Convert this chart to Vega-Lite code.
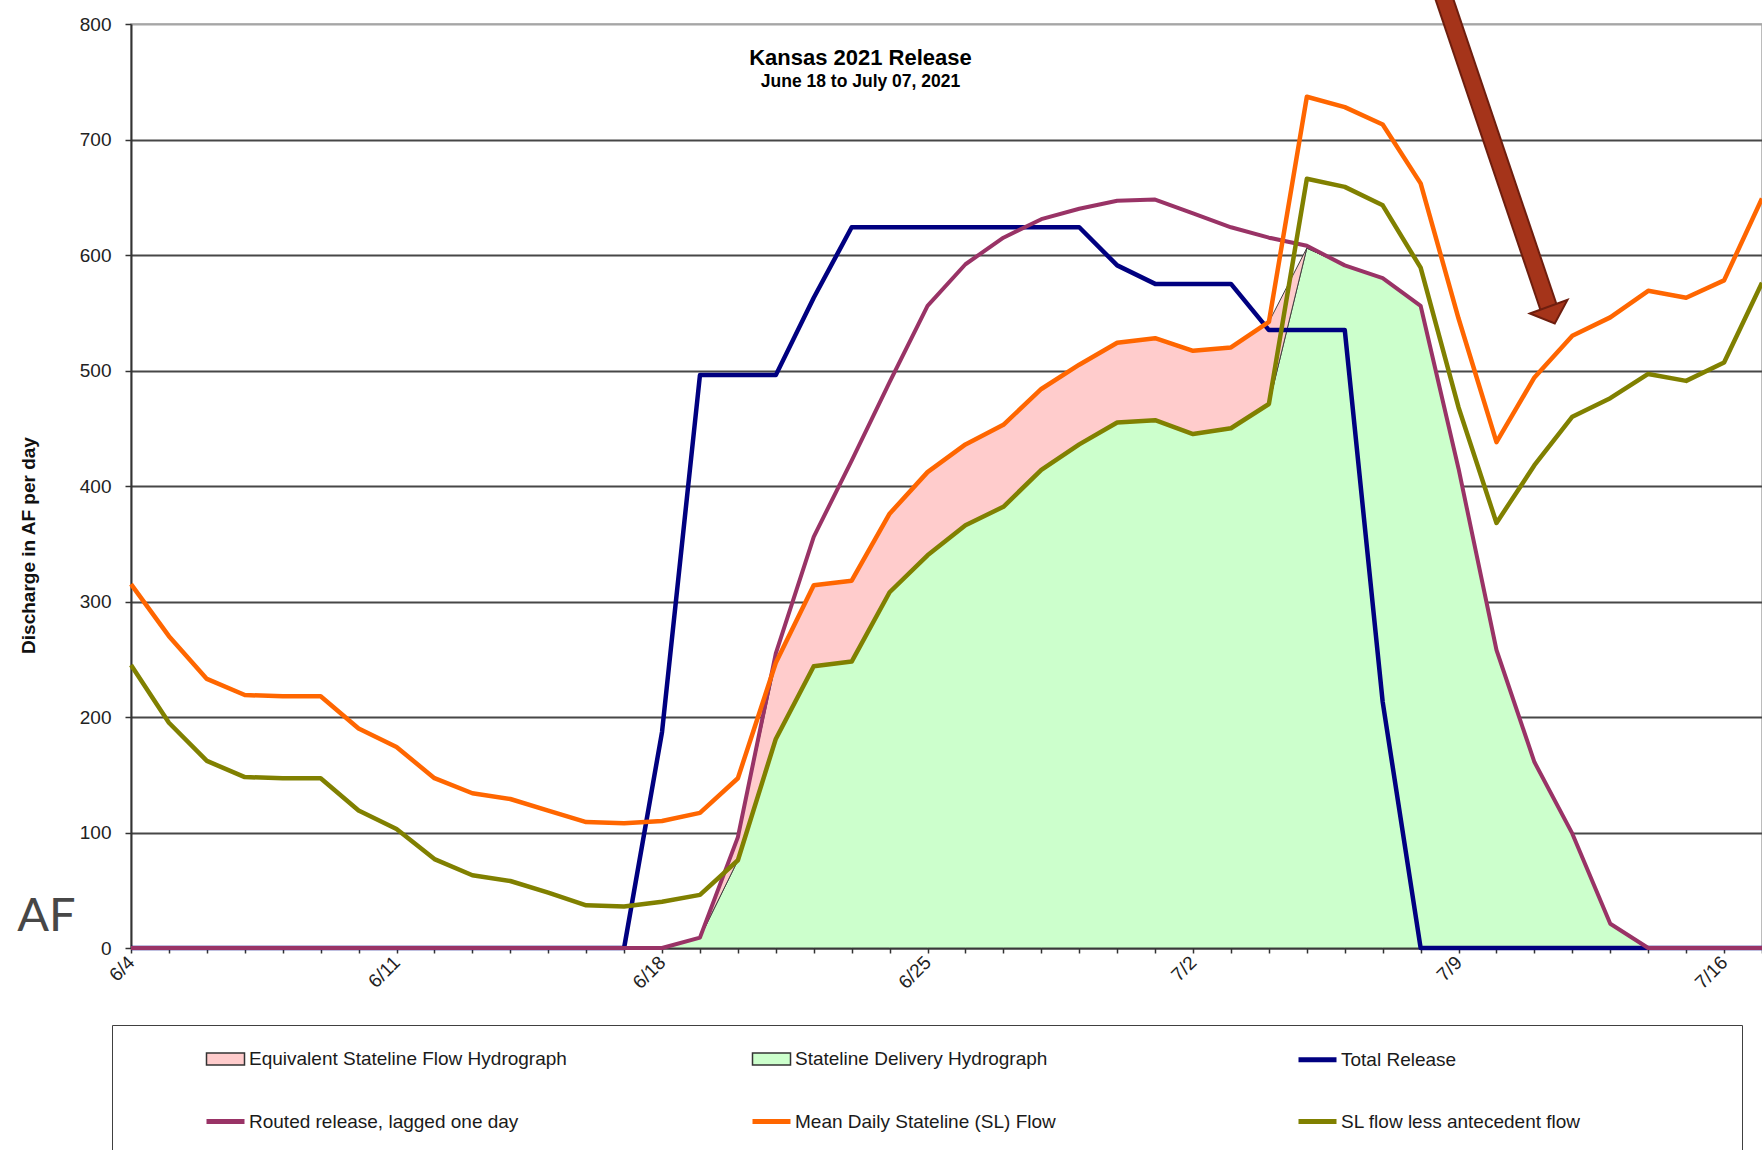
{
  "$schema": "https://vega.github.io/schema/vega-lite/v6.json",
  "width": 1631,
  "height": 924,
  "autosize": {"type": "none"},
  "padding": {"left": 131, "top": 24, "right": 0, "bottom": 202},
  "background": "white",
  "config": {
    "font": "Liberation Sans",
    "view": {"stroke": "#a6a6a6", "strokeWidth": 1.5}
  },
  "title": {
    "text": "Kansas 2021 Release",
    "subtitle": "June 18 to July 07, 2021",
    "frame": "group",
    "anchor": "middle",
    "orient": "top",
    "offset": -106,
    "dx": -86,
    "font": "Liberation Sans",
    "fontSize": 22,
    "fontWeight": "bold",
    "color": "#000000",
    "subtitleFont": "Liberation Sans",
    "subtitleFontSize": 17.5,
    "subtitleFontWeight": "bold",
    "subtitleColor": "#000000",
    "subtitlePadding": 3
  },
  "datasets": {
    "daily": [
      {"date": "2021-06-04T00:00", "total_release": 0, "routed_release": 0, "mean_sl_flow": 315, "sl_less_antecedent": 245, "delivery": null, "equivalent": null},
      {"date": "2021-06-05T00:00", "total_release": 0, "routed_release": 0, "mean_sl_flow": 270, "sl_less_antecedent": 195, "delivery": null, "equivalent": null},
      {"date": "2021-06-06T00:00", "total_release": 0, "routed_release": 0, "mean_sl_flow": 233, "sl_less_antecedent": 162, "delivery": null, "equivalent": null},
      {"date": "2021-06-07T00:00", "total_release": 0, "routed_release": 0, "mean_sl_flow": 219, "sl_less_antecedent": 148, "delivery": null, "equivalent": null},
      {"date": "2021-06-08T00:00", "total_release": 0, "routed_release": 0, "mean_sl_flow": 218, "sl_less_antecedent": 147, "delivery": null, "equivalent": null},
      {"date": "2021-06-09T00:00", "total_release": 0, "routed_release": 0, "mean_sl_flow": 218, "sl_less_antecedent": 147, "delivery": null, "equivalent": null},
      {"date": "2021-06-10T00:00", "total_release": 0, "routed_release": 0, "mean_sl_flow": 190, "sl_less_antecedent": 119, "delivery": null, "equivalent": null},
      {"date": "2021-06-11T00:00", "total_release": 0, "routed_release": 0, "mean_sl_flow": 174, "sl_less_antecedent": 103, "delivery": null, "equivalent": null},
      {"date": "2021-06-12T00:00", "total_release": 0, "routed_release": 0, "mean_sl_flow": 147, "sl_less_antecedent": 77, "delivery": null, "equivalent": null},
      {"date": "2021-06-13T00:00", "total_release": 0, "routed_release": 0, "mean_sl_flow": 134, "sl_less_antecedent": 63, "delivery": null, "equivalent": null},
      {"date": "2021-06-14T00:00", "total_release": 0, "routed_release": 0, "mean_sl_flow": 129, "sl_less_antecedent": 58, "delivery": null, "equivalent": null},
      {"date": "2021-06-15T00:00", "total_release": 0, "routed_release": 0, "mean_sl_flow": 119, "sl_less_antecedent": 48, "delivery": null, "equivalent": null},
      {"date": "2021-06-16T00:00", "total_release": 0, "routed_release": 0, "mean_sl_flow": 109, "sl_less_antecedent": 37, "delivery": null, "equivalent": null},
      {"date": "2021-06-17T00:00", "total_release": 0, "routed_release": 0, "mean_sl_flow": 108, "sl_less_antecedent": 36, "delivery": null, "equivalent": null},
      {"date": "2021-06-18T00:00", "total_release": 187, "routed_release": 0, "mean_sl_flow": 110, "sl_less_antecedent": 40, "delivery": 0, "equivalent": 0},
      {"date": "2021-06-19T00:00", "total_release": 496, "routed_release": 9, "mean_sl_flow": 117, "sl_less_antecedent": 46, "delivery": 9, "equivalent": 9},
      {"date": "2021-06-20T00:00", "total_release": 496, "routed_release": 96, "mean_sl_flow": 147, "sl_less_antecedent": 76, "delivery": 76, "equivalent": 96},
      {"date": "2021-06-21T00:00", "total_release": 496, "routed_release": 255, "mean_sl_flow": 247, "sl_less_antecedent": 181, "delivery": 181, "equivalent": 247},
      {"date": "2021-06-22T00:00", "total_release": 563, "routed_release": 356, "mean_sl_flow": 314, "sl_less_antecedent": 244, "delivery": 244, "equivalent": 314},
      {"date": "2021-06-23T00:00", "total_release": 624, "routed_release": 422, "mean_sl_flow": 318, "sl_less_antecedent": 248, "delivery": 248, "equivalent": 318},
      {"date": "2021-06-24T00:00", "total_release": 624, "routed_release": 490, "mean_sl_flow": 376, "sl_less_antecedent": 308, "delivery": 308, "equivalent": 376},
      {"date": "2021-06-25T00:00", "total_release": 624, "routed_release": 556, "mean_sl_flow": 412, "sl_less_antecedent": 340, "delivery": 340, "equivalent": 412},
      {"date": "2021-06-26T00:00", "total_release": 624, "routed_release": 592, "mean_sl_flow": 436, "sl_less_antecedent": 366, "delivery": 366, "equivalent": 436},
      {"date": "2021-06-27T00:00", "total_release": 624, "routed_release": 615, "mean_sl_flow": 453, "sl_less_antecedent": 382, "delivery": 382, "equivalent": 453},
      {"date": "2021-06-28T00:00", "total_release": 624, "routed_release": 631, "mean_sl_flow": 484, "sl_less_antecedent": 414, "delivery": 414, "equivalent": 484},
      {"date": "2021-06-29T00:00", "total_release": 624, "routed_release": 640, "mean_sl_flow": 505, "sl_less_antecedent": 436, "delivery": 436, "equivalent": 505},
      {"date": "2021-06-30T00:00", "total_release": 591, "routed_release": 647, "mean_sl_flow": 524, "sl_less_antecedent": 455, "delivery": 455, "equivalent": 524},
      {"date": "2021-07-01T00:00", "total_release": 575, "routed_release": 648, "mean_sl_flow": 528, "sl_less_antecedent": 457, "delivery": 457, "equivalent": 528},
      {"date": "2021-07-02T00:00", "total_release": 575, "routed_release": 636, "mean_sl_flow": 517, "sl_less_antecedent": 445, "delivery": 445, "equivalent": 517},
      {"date": "2021-07-03T00:00", "total_release": 575, "routed_release": 624, "mean_sl_flow": 520, "sl_less_antecedent": 450, "delivery": 450, "equivalent": 520},
      {"date": "2021-07-04T00:00", "total_release": 535, "routed_release": 615, "mean_sl_flow": 542, "sl_less_antecedent": 471, "delivery": 471, "equivalent": 542},
      {"date": "2021-07-05T00:00", "total_release": 535, "routed_release": 608, "mean_sl_flow": 737, "sl_less_antecedent": 666, "delivery": 606, "equivalent": 606},
      {"date": "2021-07-06T00:00", "total_release": 535, "routed_release": 591, "mean_sl_flow": 728, "sl_less_antecedent": 659, "delivery": 591, "equivalent": 591},
      {"date": "2021-07-07T00:00", "total_release": 213, "routed_release": 580, "mean_sl_flow": 713, "sl_less_antecedent": 643, "delivery": 580, "equivalent": 580},
      {"date": "2021-07-08T00:00", "total_release": 0, "routed_release": 556, "mean_sl_flow": 662, "sl_less_antecedent": 589, "delivery": 556, "equivalent": 556},
      {"date": "2021-07-09T00:00", "total_release": 0, "routed_release": 415, "mean_sl_flow": 545, "sl_less_antecedent": 468, "delivery": 415, "equivalent": 415},
      {"date": "2021-07-10T00:00", "total_release": 0, "routed_release": 258, "mean_sl_flow": 438, "sl_less_antecedent": 368, "delivery": 258, "equivalent": 258},
      {"date": "2021-07-11T00:00", "total_release": 0, "routed_release": 161, "mean_sl_flow": 494, "sl_less_antecedent": 418, "delivery": 161, "equivalent": 161},
      {"date": "2021-07-12T00:00", "total_release": 0, "routed_release": 99, "mean_sl_flow": 530, "sl_less_antecedent": 460, "delivery": 99, "equivalent": 99},
      {"date": "2021-07-13T00:00", "total_release": 0, "routed_release": 21, "mean_sl_flow": 546, "sl_less_antecedent": 476, "delivery": 21, "equivalent": 21},
      {"date": "2021-07-14T00:00", "total_release": 0, "routed_release": 0, "mean_sl_flow": 569, "sl_less_antecedent": 497, "delivery": 0, "equivalent": 0},
      {"date": "2021-07-15T00:00", "total_release": 0, "routed_release": 0, "mean_sl_flow": 563, "sl_less_antecedent": 491, "delivery": null, "equivalent": null},
      {"date": "2021-07-16T00:00", "total_release": 0, "routed_release": 0, "mean_sl_flow": 578, "sl_less_antecedent": 507, "delivery": null, "equivalent": null},
      {"date": "2021-07-17T00:00", "total_release": 0, "routed_release": 0, "mean_sl_flow": 649, "sl_less_antecedent": 576, "delivery": null, "equivalent": null}
    ],
    "series": [
      {"series": "Equivalent Stateline Flow Hydrograph"},
      {"series": "Stateline Delivery Hydrograph"},
      {"series": "Total Release"},
      {"series": "Routed release, lagged one day"},
      {"series": "Mean Daily Stateline (SL) Flow"},
      {"series": "SL flow less antecedent flow"}
    ]
  },
  "data": {"name": "daily"},
  "layer": [
    {
      "mark": {"type": "area", "fill": "#CCFFCC", "stroke": "#404040", "strokeWidth": 1, "fillOpacity": 1},
      "encoding": {
        "x": {
          "field": "date",
          "type": "temporal",
          "title": null,
          "scale": {"domain": [{"year": 2021, "month": 6, "date": 4}, {"year": 2021, "month": 7, "date": 17}], "nice": false},
          "axis": {
            "tickCount": {"interval": "day", "step": 1},
            "labelExpr": "day(datum.value) == 5 ? timeFormat(datum.value, '%-m/%-d') : ''",
            "labelOverlap": false,
            "labelFlush": false,
            "labelBound": false,
            "labelAngle": -45,
            "labelAlign": "right",
            "labelBaseline": "middle",
            "labelPadding": 6,
            "labelFont": "Liberation Sans",
            "labelFontSize": 19,
            "labelColor": "#222222",
            "grid": false,
            "ticks": true,
            "tickSize": 5,
            "tickWidth": 1.5,
            "tickColor": "#333333",
            "domainColor": "#333333",
            "domainWidth": 2
          }
        },
        "y": {
          "field": "delivery",
          "type": "quantitative",
          "stack": null,
          "title": "Discharge in AF per day",
          "scale": {"domain": [0, 800], "nice": false},
          "axis": {
            "values": [0, 100, 200, 300, 400, 500, 600, 700, 800],
            "grid": true,
            "gridColor": {"condition": {"test": "datum.value == 800", "value": "#a6a6a6"}, "value": "#474747"},
            "gridWidth": 2,
            "domainColor": "#333333",
            "domainWidth": 2,
            "tickColor": "#333333",
            "tickWidth": 1.5,
            "tickSize": 6,
            "labelFont": "Liberation Sans",
            "labelFontSize": 19,
            "labelColor": "#222222",
            "labelPadding": 14,
            "labelFlush": false,
            "titleFont": "Liberation Sans",
            "titleFontSize": 19,
            "titleFontWeight": "bold",
            "titleColor": "#111111",
            "titleAngle": 270,
            "titleAlign": "center",
            "titleBaseline": "middle",
            "titleX": -103,
            "titleY": 521
          }
        }
      }
    },
    {
      "mark": {"type": "area", "fill": "#FFCCCC", "stroke": "#404040", "strokeWidth": 1, "fillOpacity": 1},
      "encoding": {
        "x": {"field": "date", "type": "temporal"},
        "y": {"field": "equivalent", "type": "quantitative", "title": "Discharge in AF per day"},
        "y2": {"field": "delivery"}
      }
    },
    {
      "mark": {"type": "line", "stroke": "#000080", "strokeWidth": 4.5, "strokeJoin": "round"},
      "encoding": {
        "x": {"field": "date", "type": "temporal"},
        "y": {"field": "total_release", "type": "quantitative", "title": "Discharge in AF per day"}
      }
    },
    {
      "mark": {"type": "line", "stroke": "#993366", "strokeWidth": 4, "strokeJoin": "round"},
      "encoding": {
        "x": {"field": "date", "type": "temporal"},
        "y": {"field": "routed_release", "type": "quantitative", "title": "Discharge in AF per day"}
      }
    },
    {
      "mark": {"type": "line", "stroke": "#FF6600", "strokeWidth": 4.5, "strokeJoin": "round"},
      "encoding": {
        "x": {"field": "date", "type": "temporal"},
        "y": {"field": "mean_sl_flow", "type": "quantitative", "title": "Discharge in AF per day"}
      }
    },
    {
      "mark": {"type": "line", "stroke": "#808000", "strokeWidth": 4.5, "strokeJoin": "round"},
      "encoding": {
        "x": {"field": "date", "type": "temporal"},
        "y": {"field": "sl_less_antecedent", "type": "quantitative", "title": "Discharge in AF per day"}
      }
    },
    {
      "data": {"values": [{}]},
      "mark": {"type": "rule", "color": "#6E1E0E", "strokeWidth": 19, "clip": false},
      "encoding": {
        "x": {"datum": {"year": 2021, "month": 7, "date": 8, "hours": 14, "minutes": 10}, "type": "temporal"},
        "y": {"datum": 825, "type": "quantitative"},
        "x2": {"datum": {"year": 2021, "month": 7, "date": 11, "hours": 8, "minutes": 53}},
        "y2": {"datum": 555}
      }
    },
    {
      "data": {"values": [{}]},
      "mark": {"type": "rule", "color": "#A5341A", "strokeWidth": 15, "clip": false},
      "encoding": {
        "x": {"datum": {"year": 2021, "month": 7, "date": 8, "hours": 14, "minutes": 10}, "type": "temporal"},
        "y": {"datum": 825, "type": "quantitative"},
        "x2": {"datum": {"year": 2021, "month": 7, "date": 11, "hours": 8, "minutes": 53}},
        "y2": {"datum": 555}
      }
    },
    {
      "data": {"values": [{}]},
      "mark": {"type": "point", "shape": "M-1,-0.445L1,-0.445L0,0.445Z", "size": 1600, "angle": -20, "filled": true, "fill": "#A5341A", "stroke": "#6E1E0E", "strokeWidth": 2, "opacity": 1, "clip": false},
      "encoding": {
        "x": {"datum": {"year": 2021, "month": 7, "date": 11, "hours": 10, "minutes": 57}, "type": "temporal"},
        "y": {"datum": 548, "type": "quantitative"}
      }
    },
    {
      "data": {"values": [{}]},
      "mark": {"type": "text", "text": "AF", "font": "Lato", "fontWeight": 400, "fontSize": 47, "color": "#474747", "align": "left", "baseline": "middle", "clip": false},
      "encoding": {
        "x": {"datum": {"year": 2021, "month": 6, "date": 1}, "type": "temporal"},
        "y": {"datum": 27, "type": "quantitative"}
      }
    },
    {
      "data": {"name": "series"},
      "mark": {"type": "point", "filled": true, "opacity": 1, "clip": false},
      "encoding": {
        "x": {"datum": {"year": 2021, "month": 4, "date": 1}, "type": "temporal"},
        "y": {"datum": 0, "type": "quantitative"},
        "color": {
          "field": "series",
          "type": "nominal",
          "title": "\u00a0",
          "scale": {
            "domain": ["Equivalent Stateline Flow Hydrograph", "Stateline Delivery Hydrograph", "Total Release", "Routed release, lagged one day", "Mean Daily Stateline (SL) Flow", "SL flow less antecedent flow", "\u200b"],
            "range": ["#FFCCCC", "#CCFFCC", "#000080", "#993366", "#FF6600", "#808000", "transparent"]
          },
          "legend": {
            "orient": "none",
            "legendX": -19,
            "legendY": 1001,
            "direction": "horizontal",
            "columns": 3,
            "gridAlign": "all",
            "columnPadding": 105,
            "rowPadding": 30,
            "padding": 13,
            "strokeColor": "#404040",
            "titleOrient": "left",
            "titleFontSize": 4,
            "titlePadding": 79,
            "labelFont": "Liberation Sans",
            "labelFontSize": 19,
            "labelColor": "#1a1a1a",
            "labelOffset": 2,
            "labelLimit": 1000,
            "symbolSize": 1444,
            "symbolOpacity": 1,
            "labelExpr": "datum.label == 'SL flow less antecedent flow' ? datum.label + '\u00a0\u00a0\u00a0\u00a0\u00a0\u00a0\u00a0\u00a0\u00a0\u00a0\u00a0\u00a0\u00a0\u00a0\u00a0\u00a0\u00a0\u00a0\u00a0\u00a0\u00a0\u00a0\u00a0\u00a0\u00a0\u00a0\u00a0\u00a0\u200b' : datum.label"
          }
        },
        "stroke": {
          "field": "series",
          "type": "nominal",
          "title": "\u00a0",
          "scale": {
            "type": "ordinal",
            "domain": ["Equivalent Stateline Flow Hydrograph", "Stateline Delivery Hydrograph", "Total Release", "Routed release, lagged one day", "Mean Daily Stateline (SL) Flow", "SL flow less antecedent flow", "\u200b"],
            "range": ["#333333", "#333333", "#000080", "#993366", "#FF6600", "#808000", "transparent"]
          }
        },
        "shape": {
          "field": "series",
          "type": "nominal",
          "title": "\u00a0",
          "scale": {
            "type": "ordinal",
            "domain": ["Equivalent Stateline Flow Hydrograph", "Stateline Delivery Hydrograph", "Total Release", "Routed release, lagged one day", "Mean Daily Stateline (SL) Flow", "SL flow less antecedent flow", "\u200b"],
            "range": ["M-1,-0.32H1V0.32H-1Z", "M-1,-0.32H1V0.32H-1Z", "M-1,0H1", "M-1,0H1", "M-1,0H1", "M-1,0H1", "M-1,0H1"]
          }
        },
        "strokeWidth": {
          "field": "series",
          "type": "nominal",
          "title": "\u00a0",
          "scale": {
            "type": "ordinal",
            "domain": ["Equivalent Stateline Flow Hydrograph", "Stateline Delivery Hydrograph", "Total Release", "Routed release, lagged one day", "Mean Daily Stateline (SL) Flow", "SL flow less antecedent flow", "\u200b"],
            "range": [1.5, 1.5, 5, 5, 5, 5, 0]
          }
        }
      }
    }
  ]
}
